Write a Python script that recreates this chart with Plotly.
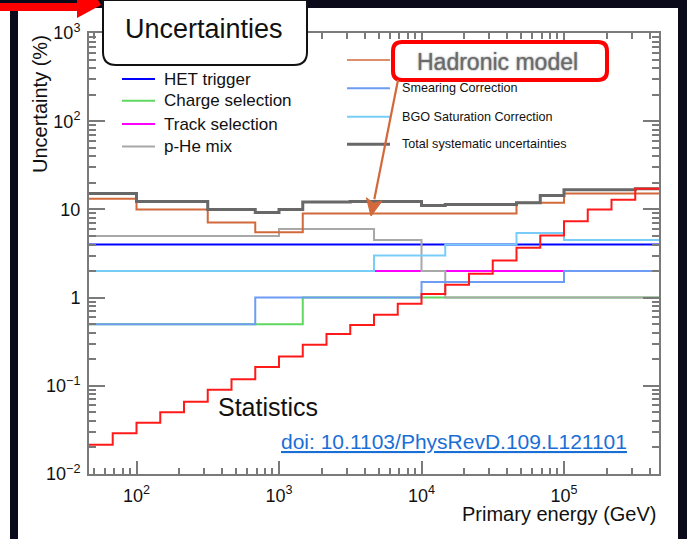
import plotly.graph_objects as go

# ---------------- data ----------------
# statistical uncertainty, 6 bins per decade
stat_edges = [46.4, 68.1, 100, 146.8, 215.4, 316.2, 464.2, 681.3, 1000, 1468,
              2154, 3162, 4642, 6813, 10000, 14678, 21544, 31623, 46416, 68129,
              100000, 146780, 215440, 316230, 464160]
stat_vals = [0.0214, 0.029, 0.038, 0.050, 0.066, 0.090, 0.119, 0.163, 0.215, 0.292,
             0.387, 0.49, 0.64, 0.85, 1.10, 1.40, 1.86, 2.63, 3.67, 5.07,
             7.36, 10.0, 12.9, 17.2]

het_edges = [46.4, 464160]
het_vals = [4.0]

charge_edges = [46.4, 1468, 464160]
charge_vals = [0.5, 1.0]

track_edges = [46.4, 464160]
track_vals = [2.0]

phe_edges = [46.4, 1000, 4642, 10000, 14678, 464160]
phe_vals = [5.0, 6.0, 4.5, 2.0, 1.0]

hadr_edges = [46.4, 100, 316.2, 681.3, 1468, 46416, 100000, 464160]
hadr_vals = [13.2, 10.0, 7.1, 5.5, 9.0, 11.9, 15.1]

smear_edges = [46.4, 681.3, 10000, 100000, 464160]
smear_vals = [0.5, 1.0, 1.5, 2.0]

bgo_edges = [46.4, 4642, 14678, 46416, 100000, 464160]
bgo_vals = [2.0, 3.0, 4.0, 5.4, 4.5]

total_edges = [46.4, 100, 316.2, 681.3, 1000, 1468, 3162, 10000, 14678, 46416,
               68129, 100000, 316230, 464160]
total_vals = [15.1, 12.3, 10.0, 9.2, 10.0, 12.1, 12.3, 11.1, 11.4, 11.9,
              14.4, 16.7, 17.2]

left_names = ["HET trigger", "Charge selection", "Track selection", "p-He mix"]
right_names = ["Hadronic model", "Smearing Correction", "BGO Saturation Correction",
               "Total systematic uncertainties"]

y_tickvals = [0.01, 0.1, 1, 10, 100, 1000]
y_ticktext = ["10<sup>\u22122</sup>", "10<sup>\u22121</sup>", "1", "10",
              "10<sup>2</sup>", "10<sup>3</sup>"]
x_tickvals = [100, 1000, 10000, 100000]
x_ticktext = ["10<sup>2</sup>", "10<sup>3</sup>", "10<sup>4</sup>", "10<sup>5</sup>"]

# ---------------- styles ----------------
C_HET = "#0000ff"
C_CHARGE = "#5fd85f"
C_TRACK = "#ff00ff"
C_PHE = "#a8a8a8"
C_HADR = "#d2693a"
C_SMEAR = "#6e9cf5"
C_BGO = "#78cdf8"
C_TOTAL = "#686868"
C_STAT = "#ff1a1a"
FRAME = "#7a7a7a"
DARK = "#0b0a1a"
FONT = "Liberation Sans, Arial, Helvetica, sans-serif"

W, H = 687, 539
L, R, T, B = 89, 659, 33, 474


def px(x):
    return (x - L) / (R - L)


def py(y):
    return (B - y) / (B - T)


def step(edges, vals, color, width):
    return go.Scatter(x=edges, y=list(vals) + [vals[-1]], mode="lines",
                      line=dict(color=color, width=width, shape="hv"),
                      showlegend=False, hoverinfo="skip")


fig = go.Figure()
fig.add_trace(step(het_edges, het_vals, C_HET, 2))
fig.add_trace(step(charge_edges, charge_vals, C_CHARGE, 2))
fig.add_trace(step(track_edges, track_vals, C_TRACK, 2))
fig.add_trace(step(phe_edges, phe_vals, C_PHE, 2))
fig.add_trace(step(hadr_edges, hadr_vals, C_HADR, 2))
fig.add_trace(step(smear_edges, smear_vals, C_SMEAR, 2))
fig.add_trace(step(bgo_edges, bgo_vals, C_BGO, 2))
fig.add_trace(step(total_edges, total_vals, C_TOTAL, 3))
fig.add_trace(step(stat_edges, stat_vals, C_STAT, 2))

y_minor = [m * 10 ** k for k in range(-2, 3) for m in range(2, 10)]
x_minor = [m * 10 ** k for k in range(1, 6) for m in range(2, 10)
           if 46.4 < m * 10 ** k < 464160]

fig.update_xaxes(type="log", range=[1.66667, 5.66667],
                 tickmode="array", tickvals=x_tickvals, ticktext=x_ticktext,
                 ticks="inside", ticklen=13, tickwidth=1.5, tickcolor=FRAME,
                 showline=True, linecolor=FRAME, linewidth=2, mirror="allticks",
                 showgrid=False, zeroline=False, ticklabelstandoff=4,
                 tickfont=dict(family=FONT, size=18, color="#111"),
                 minor=dict(tickmode="array", tickvals=x_minor, ticks="inside",
                            ticklen=6, tickwidth=1.5, tickcolor=FRAME, showgrid=False))
fig.update_yaxes(type="log", range=[-2, 3],
                 tickmode="array", tickvals=y_tickvals, ticktext=y_ticktext,
                 ticks="inside", ticklen=16, tickwidth=1.5, tickcolor=FRAME,
                 showline=True, linecolor=FRAME, linewidth=2, mirror="allticks",
                 showgrid=False, zeroline=False, ticklabelstandoff=3,
                 tickfont=dict(family=FONT, size=18, color="#111"),
                 minor=dict(tickmode="array", tickvals=y_minor, ticks="inside",
                            ticklen=7, tickwidth=1.5, tickcolor=FRAME, showgrid=False))

shapes = []
annotations = []

# white canvas panels on the dark page background
for x0, y0, x1, y1 in [(0, 8, 10, H), (18, 8, 678, H)]:
    shapes.append(dict(type="rect", xref="paper", yref="paper",
                       x0=px(x0), x1=px(x1), y0=py(y0), y1=py(y1),
                       fillcolor="white", line=dict(width=0), layer="below"))


def rounded(x0, y0, x1, y1, r, top=True):
    pts = [
        ("M", [(x0 + r, y0) if top else (x1, y0)]),
    ]
    if top:
        pts += [("L", [(x1 - r, y0)]), ("Q", [(x1, y0), (x1, y0 + r)])]
    pts += [
        ("L", [(x1, y1 - r)]), ("Q", [(x1, y1), (x1 - r, y1)]),
        ("L", [(x0 + r, y1)]), ("Q", [(x0, y1), (x0, y1 - r)]),
    ]
    if top:
        pts += [("L", [(x0, y0 + r)]), ("Q", [(x0, y0), (x0 + r, y0)])]
    else:
        pts += [("L", [(x0, y0)])]
    s = ""
    for cmd, ps in pts:
        s += cmd + " " + " ".join(f"{px(a):.5f},{py(b):.5f}" for a, b in ps) + " "
    return s + "Z"


# legend samples and labels
left_colors = [C_HET, C_CHARGE, C_TRACK, C_PHE]
left_y = [79, 100.7, 124, 146.5]
for name, col, yy in zip(left_names, left_colors, left_y):
    shapes.append(dict(type="line", xref="paper", yref="paper",
                       x0=px(122), x1=px(155), y0=py(yy), y1=py(yy),
                       line=dict(color=col, width=2), layer="above"))
    annotations.append(dict(text=name, xref="paper", yref="paper", x=px(162), y=py(yy),
                            xanchor="left", yanchor="middle", showarrow=False,
                            font=dict(family=FONT, size=17, color="#111")))

right_colors = [C_HADR, C_SMEAR, C_BGO, C_TOTAL]
right_widths = [1.5, 2, 2, 3]
right_y = [60, 88.3, 116.7, 144.3]
for i, (name, col, lw, yy) in enumerate(zip(right_names, right_colors, right_widths, right_y)):
    shapes.append(dict(type="line", xref="paper", yref="paper",
                       x0=px(347), x1=px(390), y0=py(yy), y1=py(yy),
                       line=dict(color=col, width=lw), layer="above"))
    if i > 0:
        annotations.append(dict(text=name, xref="paper", yref="paper", x=px(400), y=py(yy),
                                xanchor="left", yanchor="middle", showarrow=False,
                                font=dict(family=FONT, size=12.6, color="#111")))

# highlighted legend entry
shapes.append(dict(type="path", xref="paper", yref="paper",
                   path=rounded(393, 42, 607, 80, 9),
                   fillcolor="white", line=dict(color="#ff0000", width=4), layer="above"))
annotations.append(dict(text=right_names[0], xref="paper", yref="paper",
                        x=px(497), y=py(62), xanchor="center", yanchor="middle",
                        showarrow=False,
                        font=dict(family=FONT, size=23, color="#6a6a6a",
                                  shadow="0px 0px 2px #777777")))

# pointer from the highlighted entry down to its curve
tip = (371, 216)
tail = (398, 80)
dx, dy = tip[0] - tail[0], tip[1] - tail[1]
n = (dx * dx + dy * dy) ** 0.5
ux, uy = dx / n, dy / n
hl, hw = 17, 8
bx, by = tip[0] - hl * ux, tip[1] - hl * uy
shapes.append(dict(type="line", xref="paper", yref="paper",
                   x0=px(tail[0]), y0=py(tail[1]), x1=px(bx), y1=py(by),
                   line=dict(color=C_HADR, width=2.2), layer="above"))
c1 = (bx - hw * uy, by + hw * ux)
c2 = (bx + hw * uy, by - hw * ux)
nb = (bx + 4 * ux, by + 4 * uy)
head = "M {} L {} L {} L {} Z".format(
    *[f"{px(a):.5f},{py(b):.5f}" for a, b in [tip, c1, nb, c2]])
shapes.append(dict(type="path", xref="paper", yref="paper", path=head,
                   fillcolor=C_HADR, line=dict(color=C_HADR, width=1), layer="above"))

# title tab and red marker arrow
shapes.append(dict(type="path", xref="paper", yref="paper",
                   path=rounded(103, 0, 307, 65, 13, top=False),
                   fillcolor="white", line=dict(color="#111", width=2), layer="above"))
annotations.append(dict(text="Uncertainties", xref="paper", yref="paper",
                        x=px(204), y=py(29), xanchor="center", yanchor="middle",
                        showarrow=False,
                        font=dict(family=FONT, size=27, color="#111")))
shapes.append(dict(type="rect", xref="paper", yref="paper",
                   x0=px(0), x1=px(78), y0=py(3), y1=py(11),
                   fillcolor="#ff0000", line=dict(width=0), layer="above"))
arrow_head = "M {} L {} L {} L {} Z".format(
    *[f"{px(a):.5f},{py(b):.5f}" for a, b in [(77, 0), (77, 18), (101, 5), (98, 0)]])
shapes.append(dict(type="path", xref="paper", yref="paper", path=arrow_head,
                   fillcolor="#ff0000", line=dict(width=0), layer="above"))

# text labels
annotations.append(dict(text="Statistics", xref="paper", yref="paper",
                        x=px(268), y=py(407), xanchor="center", yanchor="middle",
                        showarrow=False, font=dict(family=FONT, size=25, color="#111")))
annotations.append(dict(text="<u>doi: 10.1103/PhysRevD.109.L121101</u>",
                        xref="paper", yref="paper", x=px(279), y=py(441),
                        xanchor="left", yanchor="middle", showarrow=False,
                        font=dict(family=FONT, size=21, color="#1a6fd6")))
annotations.append(dict(text="Primary energy (GeV)", xref="paper", yref="paper",
                        x=px(659), y=py(514), xanchor="right", yanchor="middle",
                        showarrow=False, font=dict(family=FONT, size=20, color="#111")))
annotations.append(dict(text="Uncertainty (%)", xref="paper", yref="paper",
                        x=px(40), y=py(104), xanchor="center", yanchor="middle",
                        textangle=-90, showarrow=False,
                        font=dict(family=FONT, size=20, color="#111")))

fig.update_layout(width=W, height=H, margin=dict(l=L, r=W - R, t=T, b=H - B),
                  paper_bgcolor=DARK, plot_bgcolor="white",
                  showlegend=False, shapes=shapes, annotations=annotations)

fig.write_html("out.html")
